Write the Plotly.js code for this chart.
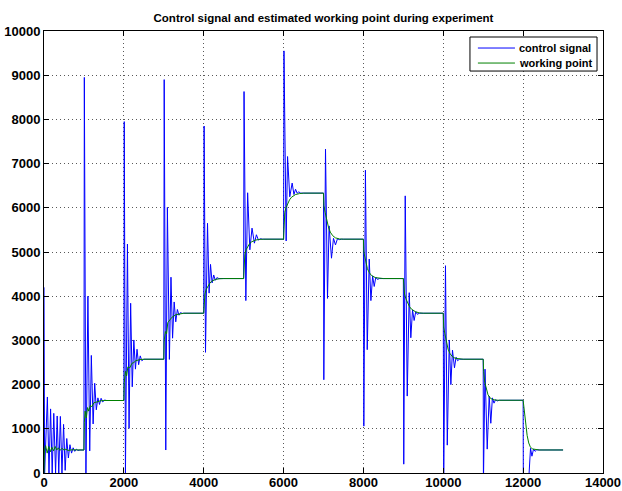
<!DOCTYPE html>
<html>
<head>
<meta charset="utf-8">
<script src="https://cdn.plot.ly/plotly-3.0.1.min.js"></script>
<style>
  html, body { margin: 0; padding: 0; background: #fff; }
  #chart { width: 622px; height: 491px; }
</style>
</head>
<body>
<div id="chart"></div>
<script>
// Control signal: turning points of the damped response after each setpoint step
const ctrlT = [
  0, 15, 85, 125, 165, 205, 245, 290, 330, 370, 410, 450, 490, 530, 570, 610, 650, 690, 730, 770, 810, 850, 900,
  1000, 1010, 1050, 1100, 1145, 1185, 1230, 1270, 1310, 1350, 1390, 1430, 1470, 1520, 1570,
  2000, 2010, 2040, 2090, 2130, 2170, 2210, 2250, 2290, 2330, 2370, 2410, 2450, 2500,
  3000, 3010, 3050, 3090, 3140, 3180, 3220, 3260, 3300, 3340, 3380, 3420, 3460, 3500,
  4000, 4010, 4045, 4095, 4135, 4170, 4210, 4250, 4290, 4330, 4380,
  5000, 5010, 5055, 5100, 5155, 5210, 5270, 5320, 5370, 5420, 5470,
  6000, 6010, 6065, 6100, 6155, 6215, 6260, 6300, 6340, 6380, 6430,
  7000, 7008, 7050, 7100, 7140, 7200, 7250, 7300, 7350, 7400, 7450,
  8000, 8010, 8050, 8095, 8145, 8187, 8230, 8270, 8310, 8350, 8400,
  9000, 9010, 9047, 9097, 9147, 9187, 9230, 9270, 9310, 9350, 9400,
  10000, 10010, 10055, 10100, 10150, 10190, 10230, 10280, 10320, 10360, 10400,
  11000, 11005, 11045, 11100, 11150, 11190, 11230, 11270, 11310, 11350, 11400,
  12000, 12005, 12130, 12185, 12220, 12260, 12300, 12340, 12400, 13000
];
const ctrlU = [
  4200, 0, 1720, 0, 1450, 0, 1350, 0, 1290, 0, 1280, 0, 1100, 60, 780, 340, 640, 450, 570, 490, 540, 510, 520,
  520, 8950, 0, 4000, 500, 2660, 1110, 2030, 1430, 1700, 1550, 1690, 1610, 1650, 1640,
  1640, 7950, 0, 5180, 1010, 3840, 1950, 3010, 2350, 2800, 2450, 2650, 2540, 2574,
  2574, 8900, 520, 6010, 2570, 4430, 3050, 3870, 3420, 3700, 3570, 3630, 3610, 3615,
  3615, 7850, 2730, 5650, 4070, 4720, 4300, 4480, 4360, 4420, 4399,
  4399, 8630, 3900, 6340, 5050, 5540, 5200, 5390, 5270, 5300, 5290,
  5290, 9550, 5250, 7160, 6250, 6560, 6300, 6420, 6330, 6360, 6332,
  6332, 2110, 7330, 3950, 5590, 4860, 5310, 5160, 5300, 5280, 5290,
  5290, 1060, 6850, 2790, 4840, 3900, 4460, 4220, 4430, 4380, 4399,
  4399, 200, 6270, 1740, 4080, 3060, 3690, 3450, 3650, 3590, 3615,
  3615, -300, 4690, 630, 3010, 2000, 2780, 2380, 2620, 2540, 2574,
  2574, -300, 2350, 540, 1740, 1125, 1700, 1580, 1660, 1630, 1646,
  1646, -300, -300, 560, 380, 540, 490, 525, 521, 521
];

// Estimated working point
const wpT = [
  0, 10, 40, 80, 120, 160, 200, 240, 280, 320, 360, 400, 450, 500, 550, 600, 700,
  1000, 1010, 1030, 1060, 1090, 1120, 1160, 1200, 1250, 1300, 1400, 1500,
  2000, 2010, 2040, 2070, 2100, 2150, 2200, 2250, 2300, 2400, 2500,
  3000, 3010, 3040, 3070, 3100, 3150, 3200, 3300, 3400, 3500,
  4000, 4010, 4030, 4060, 4100, 4150, 4200, 4300, 4400, 4500,
  5000, 5010, 5030, 5060, 5100, 5150, 5200, 5300, 5400, 5500,
  6000, 6010, 6030, 6060, 6100, 6150, 6200, 6300, 6400, 6500,
  7000, 7010, 7040, 7080, 7120, 7170, 7230, 7300, 7400, 7500,
  8000, 8010, 8030, 8060, 8100, 8150, 8200, 8300, 8400, 8500,
  9000, 9010, 9030, 9060, 9100, 9150, 9200, 9300, 9400, 9500,
  10000, 10010, 10040, 10080, 10120, 10170, 10230, 10300, 10400, 10500,
  11000, 11010, 11040, 11080, 11120, 11170, 11230, 11300, 11400,
  12000, 12020, 12060, 12100, 12140, 12180, 12230, 12300, 12400, 13000
];
const wpU = [
  0, 500, 620, 450, 600, 480, 580, 500, 600, 520, 570, 510, 560, 520, 540, 510, 525,
  520, 1150, 1400, 1250, 1480, 1400, 1530, 1500, 1590, 1600, 1630, 1640,
  1640, 2050, 2300, 2200, 2400, 2380, 2480, 2500, 2540, 2565, 2574,
  2574, 3000, 3200, 3150, 3400, 3450, 3520, 3580, 3605, 3615,
  3615, 3900, 4050, 4150, 4230, 4290, 4340, 4380, 4395, 4399,
  4399, 4800, 4950, 5050, 5130, 5190, 5230, 5270, 5285, 5290,
  5290, 5800, 5900, 6000, 6100, 6180, 6240, 6300, 6322, 6332,
  6332, 6050, 5900, 5700, 5580, 5450, 5370, 5320, 5295, 5290,
  5290, 5000, 4900, 4750, 4620, 4530, 4470, 4420, 4402, 4399,
  4399, 4150, 4050, 3950, 3850, 3770, 3710, 3650, 3622, 3615,
  3615, 3300, 3150, 2950, 2800, 2700, 2630, 2595, 2578, 2574,
  2574, 2300, 2050, 1880, 1770, 1700, 1665, 1650, 1646,
  1646, 1450, 1100, 850, 680, 590, 545, 528, 521, 521
];

const xTicks = [0, 2000, 4000, 6000, 8000, 10000, 12000, 14000];
const yTicks = [0, 1000, 2000, 3000, 4000, 5000, 6000, 7000, 8000, 9000, 10000];
const seriesNames = ['control signal', 'working point'];
const seriesColors = ['#0000ff', '#008000'];

const FONT = 'Liberation Sans, Arial, Helvetica, sans-serif';

const traces = [
  {
    x: ctrlT, y: ctrlU, type: 'scatter', mode: 'lines', name: seriesNames[0],
    line: { color: seriesColors[0], width: 1 }
  },
  {
    x: wpT, y: wpU, type: 'scatter', mode: 'lines', name: seriesNames[1],
    line: { color: seriesColors[1], width: 1 }
  }
];

const axisCommon = {
  showline: true, linecolor: '#000', linewidth: 1, mirror: 'ticks',
  ticks: 'inside', ticklen: 5, tickcolor: '#000', tickwidth: 1,
  showgrid: true, gridcolor: 'rgba(0,0,0,0.65)', gridwidth: 1, griddash: '1px,3px',
  zeroline: false, tickmode: 'array',
  tickfont: { family: FONT, size: 13, color: '#000', weight: 'bold' }
};

// Compact boxed legend in the upper-right corner of the axes
const legBox = { x0: 0.762, x1: 0.9893, y0: 0.9094, y1: 0.9864 };
const legRows = [0.9615, 0.9275];
const legLine = { x0: 0.7762, x1: 0.8425 };
const legText = 0.8470;

const shapes = [
  {
    type: 'rect', xref: 'paper', yref: 'paper',
    x0: legBox.x0, x1: legBox.x1, y0: legBox.y0, y1: legBox.y1,
    line: { color: '#000', width: 1 }, fillcolor: '#fff', layer: 'above'
  }
].concat(legRows.map((yy, i) => ({
  type: 'line', xref: 'paper', yref: 'paper',
  x0: legLine.x0, x1: legLine.x1, y0: yy, y1: yy,
  line: { color: seriesColors[i], width: 1 }, layer: 'above'
})));

const annotations = legRows.map((yy, i) => ({
  xref: 'paper', yref: 'paper', x: legText, y: yy,
  xanchor: 'left', yanchor: 'middle', showarrow: false,
  text: seriesNames[i],
  font: { family: FONT, size: 11, color: '#000', weight: 'bold' }
}));

const layout = {
  width: 622, height: 491,
  margin: { l: 44, r: 19, t: 31, b: 18, pad: 0 },
  paper_bgcolor: '#fff', plot_bgcolor: '#fff',
  showlegend: false,
  title: {
    text: 'Control signal and estimated working point during experiment',
    font: { family: FONT, size: 11.5, color: '#000', weight: 'bold' },
    x: 0.5, xanchor: 'center', xref: 'paper',
    y: 0.963, yanchor: 'middle', yref: 'container'
  },
  xaxis: Object.assign({}, axisCommon, {
    range: [0, 14000], tickvals: xTicks, ticktext: xTicks.map(String),
    ticklabelstandoff: -3
  }),
  yaxis: Object.assign({}, axisCommon, {
    range: [0, 10000], tickvals: yTicks, ticktext: yTicks.map(String)
  }),
  shapes: shapes,
  annotations: annotations
};

Plotly.newPlot('chart', traces, layout, { staticPlot: true, displayModeBar: false });
</script>
</body>
</html>
